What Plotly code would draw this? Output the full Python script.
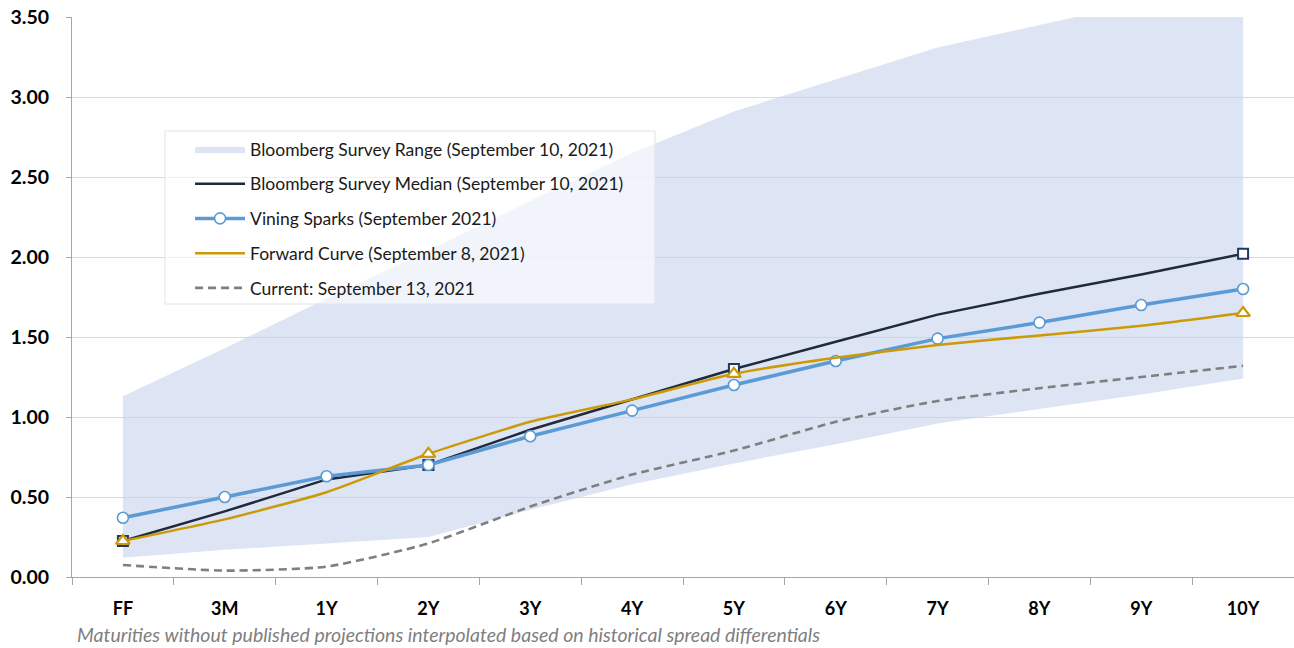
import plotly.graph_objects as go

categories = ["FF", "3M", "1Y", "2Y", "3Y", "4Y", "5Y", "6Y", "7Y", "8Y", "9Y", "10Y"]
range_low = [0.12, 0.17, 0.21, 0.25, 0.42, 0.58, 0.71, 0.83, 0.96, 1.05, 1.14, 1.24]
range_high = [1.13, 1.43, 1.74, 2.04, 2.35, 2.65, 2.91, 3.11, 3.31, 3.45, 3.59, 3.73]
median = [0.225, 0.41, 0.61, 0.70, 0.92, 1.11, 1.30, 1.47, 1.64, 1.77, 1.89, 2.02]
vining = [0.37, 0.50, 0.63, 0.70, 0.88, 1.04, 1.20, 1.35, 1.49, 1.59, 1.70, 1.80]
forward = [0.225, 0.36, 0.53, 0.77, 0.97, 1.11, 1.27, 1.37, 1.45, 1.51, 1.57, 1.65]
current = [0.075, 0.04, 0.065, 0.21, 0.44, 0.64, 0.79, 0.97, 1.10, 1.18, 1.25, 1.32]
marked_idx = [0, 3, 6, 11]

y_ticks = [0, 0.5, 1.0, 1.5, 2.0, 2.5, 3.0, 3.5]
footnote = "Maturities without published projections interpolated based on historical spread differentials"

FONT = "Lato"
NAVY = "#1f2a3d"
BLUE = "#5b9bd5"
GOLD = "#cc9a06"
GREY = "#7f7f7f"

fig = go.Figure()

fig.add_trace(go.Scatter(x=categories, y=range_low, mode="lines", line=dict(width=0),
                         showlegend=False, hoverinfo="skip"))
fig.add_trace(go.Scatter(x=categories, y=range_high, mode="lines", line=dict(width=0),
                         fill="tonexty", fillcolor="rgba(196,208,236,0.58)",
                         name="Bloomberg Survey Range (September 10, 2021)",
                         legendgroup="a", legendrank=1))
fig.add_trace(go.Scatter(x=categories, y=current, mode="lines",
                         line=dict(color=GREY, width=2.6, dash="8px,5px", shape="spline", smoothing=0.6),
                         name="Current: September 13, 2021", legendgroup="e", legendrank=5))
fig.add_trace(go.Scatter(x=categories, y=median, mode="lines",
                         line=dict(color=NAVY, width=2.5),
                         name="Bloomberg Survey Median (September 10, 2021)", legendgroup="b", legendrank=2))
fig.add_trace(go.Scatter(x=[categories[i] for i in marked_idx], y=[median[i] for i in marked_idx],
                         mode="markers", showlegend=False,
                         marker=dict(symbol="square", size=10, color="white",
                                     line=dict(color="#1f3864", width=2))))
fig.add_trace(go.Scatter(x=categories, y=vining, mode="lines+markers",
                         line=dict(color=BLUE, width=3.5),
                         marker=dict(symbol="circle", size=11, color="white",
                                     line=dict(color=BLUE, width=1.6)),
                         name="Vining Sparks (September 2021)", legendgroup="c", legendrank=3))
fig.add_trace(go.Scatter(x=categories, y=forward, mode="lines",
                         line=dict(color=GOLD, width=2.5, shape="spline", smoothing=0.5),
                         name="Forward Curve (September 8, 2021)", legendgroup="d", legendrank=4))
fig.add_trace(go.Scatter(x=[categories[i] for i in marked_idx], y=[forward[i] for i in marked_idx],
                         mode="markers", showlegend=False,
                         marker=dict(symbol="triangle-up", size=12, color="white",
                                     line=dict(color=GOLD, width=2.2))))

fig.update_layout(
    width=1294, height=648,
    margin=dict(l=72, r=0, t=17, b=71),
    paper_bgcolor="white", plot_bgcolor="white",
    font=dict(family=FONT, color="#000000"),
    showlegend=True,
    legend=dict(x=0.0966, y=0.7964, xanchor="left", yanchor="top",
                bgcolor="rgba(0,0,0,0)", borderwidth=0,
                font=dict(family=FONT, size=17.5, color="#1a1a1a"),
                traceorder="grouped", tracegroupgap=9, itemwidth=50),
    shapes=[dict(type="rect", xref="paper", yref="paper", x0=0.0761, x1=0.4771, y0=0.4875, y1=0.7964,
                 fillcolor="rgba(255,255,255,0.6)", line=dict(color="#e4e4e4", width=1), layer="above")],
    xaxis=dict(type="category", range=[-0.5, 11.5], showgrid=False,
               showline=True, linecolor="#a6a6a6", linewidth=1,
               ticks="outside", tickson="boundaries", ticklen=7, tickcolor="#a6a6a6",
               tickfont=dict(family=FONT, size=18, color="#000000", weight="bold"),
               ticklabelstandoff=15, fixedrange=True),
    yaxis=dict(range=[0, 3.5], tickvals=y_ticks, tickformat=".2f",
               showgrid=True, gridcolor="#d9d9d9", gridwidth=1,
               showline=True, linecolor="#a6a6a6", linewidth=1,
               ticks="outside", ticklen=5, tickcolor="#a6a6a6",
               tickfont=dict(family=FONT, size=19.5, color="#000000", weight="bold"),
               ticklabelstandoff=13, zeroline=False, fixedrange=True),
    annotations=[dict(text=footnote, xref="paper", yref="paper", x=0.0025, y=-0.102,
                      xanchor="left", yanchor="middle", showarrow=False,
                      font=dict(family=FONT, size=19.5, color="#7f7f7f", style="italic"))],
)

fig.write_html("out.html", config={"displayModeBar": False},
               post_script="document.body.style.margin='0';")
